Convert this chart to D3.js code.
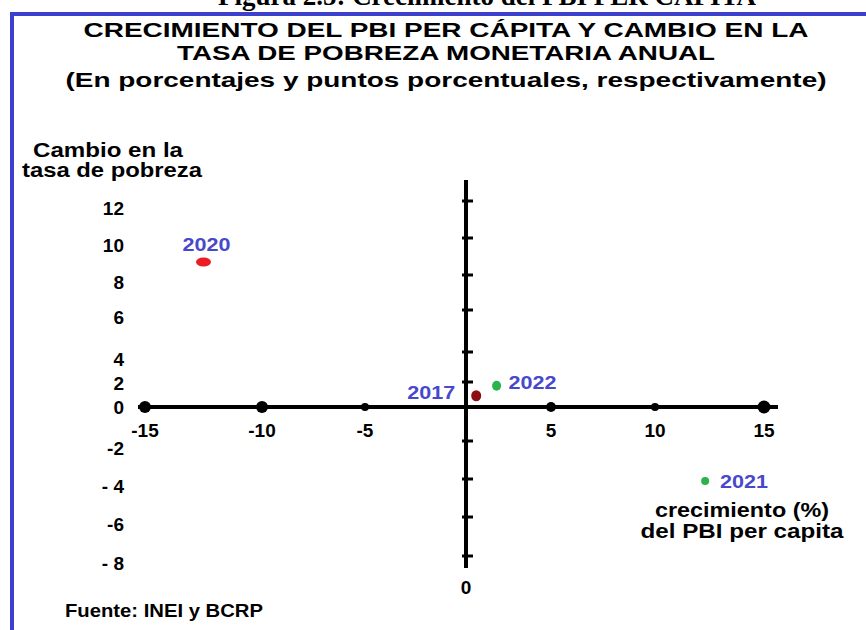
<!DOCTYPE html>
<html>
<head>
<meta charset="utf-8">
<script src="https://cdn.jsdelivr.net/npm/d3@7"></script>
<style>
body { margin: 0; background: #fff; }
svg text { font-family: "Liberation Sans", Arial, sans-serif; font-weight: bold; }
</style>
</head>
<body>
<script>
// Data
var years = ["2017", "2020", "2021", "2022"];
var growthPBI = [0.6, -12.5, 12.3, 1.8];      // crecimiento (%) del PBI per capita
var povertyChange = [0.9, 8.7, -4.1, 1.7];    // cambio en la tasa de pobreza (pp)

var xTicks = [-15, -10, -5, 0, 5, 10, 15];
var xTickLabels = ["-15", "-10", "-5", "", "5", "10", "15"];
var yTicks = [-8, -6, -4, -2, 0, 2, 4, 6, 8, 10, 12];
var yTickLabels = ["- 8", "-6", "- 4", "-2", "0", "2", "4", "6", "8", "10", "12"];

var titleLines = ["CRECIMIENTO DEL PBI PER CÁPITA Y CAMBIO EN LA",
                  "TASA DE POBREZA MONETARIA ANUAL",
                  "(En porcentajes y puntos porcentuales, respectivamente)"];

var W = 866, H = 630;

var svg = d3.select("body").append("svg")
    .attr("width", W)
    .attr("height", H);

// hand drawn axes: the spacing between ticks is not regular
var x = d3.scaleLinear().domain(xTicks).range([145, 262, 365, 466, 551, 655, 764]);
var y = d3.scaleLinear().domain(yTicks).range([556, 517, 479, 441, 407, 382, 352, 310, 275, 238, 201]);

// the text in the original is stretched sideways, so fix widths
function stretch(sel, w) {
    sel.attr("textLength", w).attr("lengthAdjust", "spacingAndGlyphs");
}

// figure caption, cut off at the top
svg.append("text")
    .attr("x", 487).attr("y", 5)
    .attr("text-anchor", "middle")
    .style("font-family", "'Liberation Serif', 'Times New Roman', serif")
    .style("font-size", "27px")
    .text("Figura 2.5: Crecimiento del PBI PER CAPITA");

// blue frame
svg.append("path")
    .attr("d", "M12,632 L12,14 L870,14")
    .attr("fill", "none")
    .attr("stroke", "#3d40cc")
    .attr("stroke-width", 4);

var titleW = [725, 538, 761];
svg.selectAll(".title")
    .data(titleLines)
    .enter().append("text")
    .attr("class", "title")
    .attr("x", 446)
    .attr("y", function(d, i) { return [37, 60, 87][i]; })
    .attr("text-anchor", "middle")
    .style("font-size", "21px")
    .text(function(d) { return d; })
    .each(function(d, i) { stretch(d3.select(this), titleW[i]); });

// y axis title
svg.selectAll(".ytitle")
    .data(["Cambio en la", "tasa de pobreza"])
    .enter().append("text")
    .attr("class", "ytitle")
    .attr("x", function(d, i) { return [108, 112][i]; })
    .attr("y", function(d, i) { return 157 + i * 20; })
    .attr("text-anchor", "middle")
    .style("font-size", "20px")
    .text(function(d) { return d; })
    .each(function(d, i) { stretch(d3.select(this), [150, 180][i]); });

// x axis title
svg.selectAll(".xtitle")
    .data(["crecimiento (%)", "del PBI per capita"])
    .enter().append("text")
    .attr("class", "xtitle")
    .attr("x", 742)
    .attr("y", function(d, i) { return 517 + i * 21; })
    .attr("text-anchor", "middle")
    .style("font-size", "20px")
    .text(function(d) { return d; })
    .each(function(d, i) { stretch(d3.select(this), [174, 203][i]); });

// horizontal axis
svg.append("line")
    .attr("x1", x(-15) - 7).attr("x2", x(15) + 14)
    .attr("y1", y(0)).attr("y2", y(0))
    .attr("stroke", "#000").attr("stroke-width", 4);

var dotR = [6, 6, 4, 0, 5, 4, 6.5];
svg.selectAll(".xdot")
    .data(xTicks)
    .enter().append("circle")
    .attr("class", "xdot")
    .attr("cx", function(d) { return x(d); })
    .attr("cy", y(0))
    .attr("r", function(d, i) { return dotR[i]; })
    .attr("fill", "#000");

svg.selectAll(".xlab")
    .data(xTicks)
    .enter().append("text")
    .attr("class", "xlab")
    .attr("x", function(d) { return x(d); })
    .attr("y", y(0) + 30)
    .attr("text-anchor", "middle")
    .style("font-size", "19px")
    .text(function(d, i) { return xTickLabels[i]; });

// vertical axis
svg.append("line")
    .attr("x1", x(0)).attr("x2", x(0))
    .attr("y1", y(12) - 21).attr("y2", y(-8) + 12)
    .attr("stroke", "#000").attr("stroke-width", 4);

svg.selectAll(".ytick")
    .data(yTicks.filter(function(d) { return d !== 0; }))
    .enter().append("line")
    .attr("class", "ytick")
    .attr("x1", x(0) - 4).attr("x2", x(0) + 7)
    .attr("y1", function(d) { return y(d); })
    .attr("y2", function(d) { return y(d); })
    .attr("stroke", "#000").attr("stroke-width", 3);

svg.selectAll(".ylab")
    .data(yTicks)
    .enter().append("text")
    .attr("class", "ylab")
    .attr("x", 124)
    .attr("y", function(d) { return y(d) + (d === 0 ? 0 : d === 2 ? 1 : 7); })
    .attr("dy", "0.35em")
    .attr("text-anchor", "end")
    .style("font-size", "19px")
    .text(function(d, i) { return yTickLabels[i]; });

svg.append("text")
    .attr("x", x(0)).attr("y", y(-8) + 38)
    .attr("text-anchor", "middle")
    .style("font-size", "19px")
    .text("0");

// points
var pointColor = { "2017": "#8e0c14", "2020": "#ec1c24", "2021": "#2bb34b", "2022": "#2bb34b" };
var pointRx = { "2017": 5, "2020": 7.5, "2021": 4, "2022": 4.5 };
var pointRy = { "2017": 5.5, "2020": 4.5, "2021": 4, "2022": 5 };
var labelPos = {
    "2017": { dx: -21, dy: -3, anchor: "end" },
    "2020": { dx: 3, dy: -18, anchor: "middle" },
    "2021": { dx: 15, dy: 0, anchor: "start" },
    "2022": { dx: 12, dy: -3, anchor: "start" }
};

var points = years.map(function(yr, i) {
    return { year: yr, gx: growthPBI[i], py: povertyChange[i] };
});

svg.selectAll(".pt")
    .data(points)
    .enter().append("ellipse")
    .attr("class", "pt")
    .attr("cx", function(d) { return x(d.gx); })
    .attr("cy", function(d) { return y(d.py); })
    .attr("rx", function(d) { return pointRx[d.year]; })
    .attr("ry", function(d) { return pointRy[d.year]; })
    .attr("fill", function(d) { return pointColor[d.year]; });

svg.selectAll(".ptlab")
    .data(points)
    .enter().append("text")
    .attr("class", "ptlab")
    .attr("x", function(d) { return x(d.gx) + labelPos[d.year].dx; })
    .attr("y", function(d) { return y(d.py) + labelPos[d.year].dy; })
    .attr("dy", "0.35em")
    .attr("text-anchor", function(d) { return labelPos[d.year].anchor; })
    .attr("fill", "#4848cc")
    .style("font-size", "19px")
    .text(function(d) { return d.year; })
    .each(function() { stretch(d3.select(this), 48); });

// source
svg.append("text")
    .attr("x", 65).attr("y", 617)
    .style("font-size", "19px")
    .text("Fuente: INEI y BCRP")
    .call(stretch, 198);
</script>
</body>
</html>
